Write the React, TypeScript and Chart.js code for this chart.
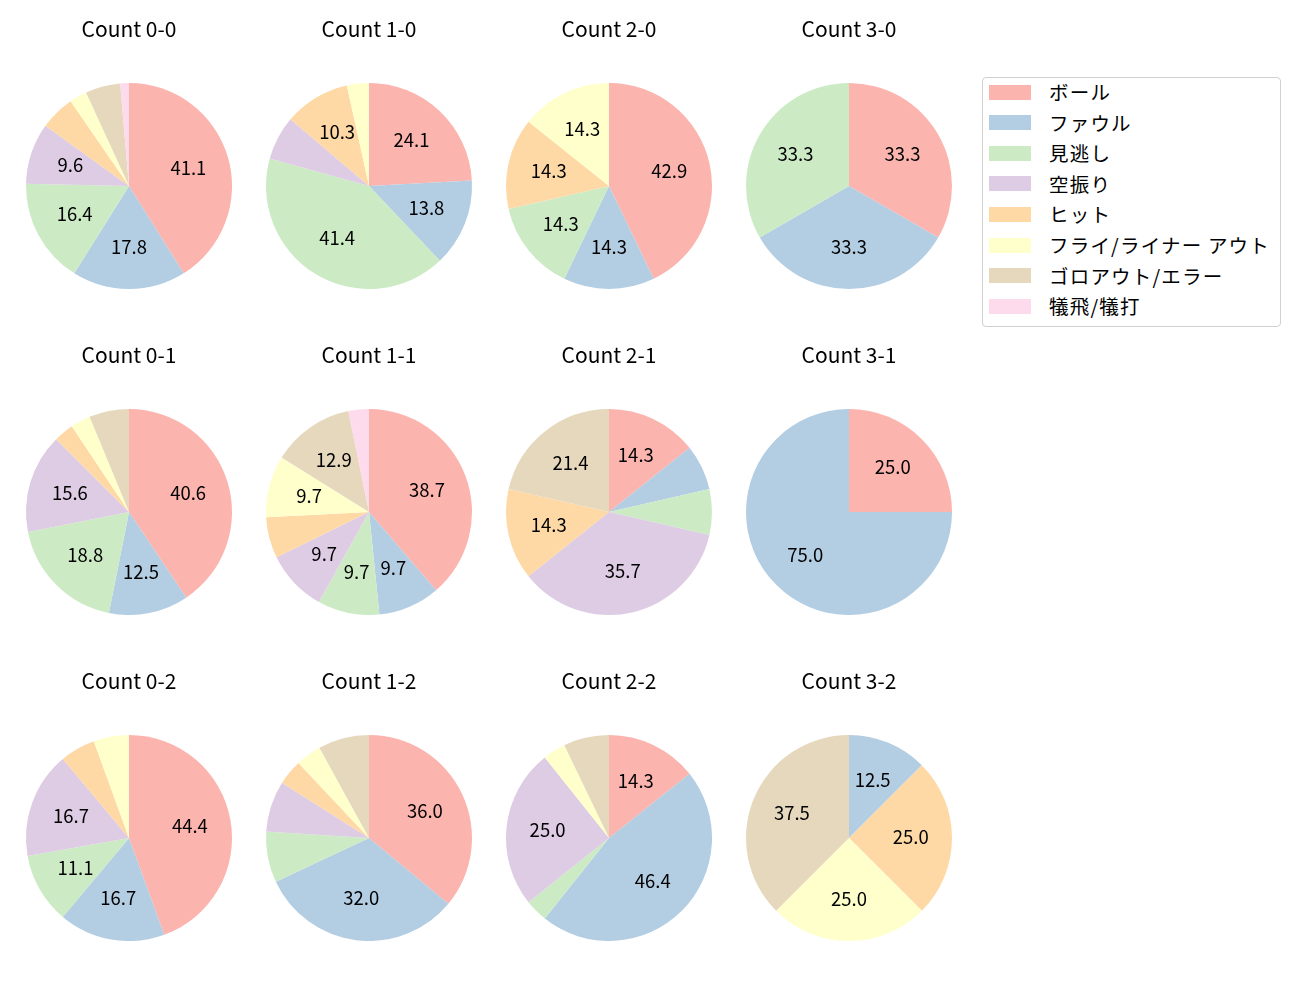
import React, { useEffect, useRef } from "react";
import { Chart, registerables } from "chart.js";

Chart.register(...registerables);

const FONT = "'Noto Sans CJK JP', 'Noto Sans', sans-serif";

const categories = [
  "ボール",
  "ファウル",
  "見逃し",
  "空振り",
  "ヒット",
  "フライ/ライナー アウト",
  "ゴロアウト/エラー",
  "犠飛/犠打",
];
const colors = ["#fbb4ae", "#b3cde3", "#ccebc5", "#decbe4", "#fed9a6", "#ffffcc", "#e5d8bd", "#fddaec"];

const countTitles = [
  "Count 0-0", "Count 1-0", "Count 2-0", "Count 3-0",
  "Count 0-1", "Count 1-1", "Count 2-1", "Count 3-1",
  "Count 0-2", "Count 1-2", "Count 2-2", "Count 3-2",
];

// pitch-result counts per ball-strike count, in category order
const count00 = [30, 13, 12, 7, 4, 2, 4, 1];
const count10 = [7, 4, 12, 2, 3, 1, 0, 0];
const count20 = [3, 1, 1, 0, 1, 1, 0, 0];
const count30 = [1, 1, 1, 0, 0, 0, 0, 0];
const count01 = [13, 4, 6, 5, 1, 1, 2, 0];
const count11 = [12, 3, 3, 3, 2, 3, 4, 1];
const count21 = [2, 1, 1, 5, 2, 0, 3, 0];
const count31 = [1, 3, 0, 0, 0, 0, 0, 0];
const count02 = [8, 3, 2, 3, 1, 1, 0, 0];
const count12 = [9, 8, 2, 2, 1, 1, 2, 0];
const count22 = [4, 13, 1, 7, 0, 1, 2, 0];
const count32 = [0, 1, 0, 0, 2, 2, 3, 0];

const allCounts = [
  count00, count10, count20, count30,
  count01, count11, count21, count31,
  count02, count12, count22, count32,
];

const LABEL_MIN_PCT = 9;

const pctPlugin = {
  id: "pctLabels",
  afterDatasetsDraw(chart: any) {
    const ctx = chart.ctx;
    const meta = chart.getDatasetMeta(0);
    const data = chart.data.datasets[0].data as number[];
    const total = data.reduce((a, b) => a + b, 0);
    ctx.save();
    ctx.font = `18.5px ${FONT}`;
    ctx.fillStyle = "#000";
    ctx.textAlign = "center";
    ctx.textBaseline = "middle";
    meta.data.forEach((arc: any, i: number) => {
      const pct = (data[i] / total) * 100;
      if (pct < LABEL_MIN_PCT) return;
      const p = arc.getProps(["x", "y", "startAngle", "endAngle", "outerRadius"], true);
      const mid = (p.startAngle + p.endAngle) / 2;
      const r = p.outerRadius * 0.6;
      ctx.fillText(pct.toFixed(1), p.x + Math.cos(mid) * r, p.y + Math.sin(mid) * r - 1);
    });
    ctx.restore();
  },
};

const W = 230;
const H = 273;

function Pie({ title, values, cx, cy }: { title: string; values: number[]; cx: number; cy: number }) {
  const ref = useRef<HTMLCanvasElement | null>(null);
  useEffect(() => {
    if (!ref.current) return;
    const chart = new Chart(ref.current, {
      type: "pie",
      data: {
        labels: categories,
        datasets: [
          {
            data: values,
            backgroundColor: colors,
            borderWidth: 0,
          },
        ],
      },
      options: {
        responsive: false,
        animation: false,
        devicePixelRatio: 1,
        layout: { padding: 0 },
        plugins: {
          legend: { display: false },
          tooltip: { enabled: false },
          title: {
            display: true,
            text: title,
            color: "#000",
            font: { family: FONT, size: 21, weight: "normal", lineHeight: 1.2 },
            padding: { top: 0, bottom: 41.8 },
          },
        },
      },
      plugins: [pctPlugin],
    } as any);
    return () => chart.destroy();
  }, [title, values]);
  return (
    <canvas
      ref={ref}
      width={W}
      height={H}
      style={{ position: "absolute", left: cx - W / 2, top: cy - 170, width: W, height: H }}
    />
  );
}

const colCenters = [129, 369, 609, 849];
const rowCenters = [186, 512, 838];

export default function App() {
  return (
    <div
      style={{
        position: "absolute",
        left: 0,
        top: 0,
        width: 1300,
        height: 1000,
        background: "#fff",
        overflow: "hidden",
        fontFamily: FONT,
      }}
    >
      {allCounts.map((vals, i) => (
        <Pie
          key={i}
          title={countTitles[i]}
          values={vals}
          cx={colCenters[i % 4]}
          cy={rowCenters[Math.floor(i / 4)]}
        />
      ))}
      <div
        style={{
          position: "absolute",
          left: 982,
          top: 77,
          width: 297,
          height: 248,
          border: "1px solid #d0d0d0",
          borderRadius: 4,
          background: "rgba(255,255,255,0.8)",
        }}
      />
      {categories.map((c, i) => {
        const y = 92 + i * 30.6;
        return (
          <React.Fragment key={c}>
            <div
              style={{
                position: "absolute",
                left: 989,
                top: y - 7.5,
                width: 42,
                height: 15,
                background: colors[i],
              }}
            />
            <div
              style={{
                position: "absolute",
                left: 1049,
                top: y - 13,
                height: 26,
                lineHeight: "26px",
                fontSize: 19.5,
                letterSpacing: 1.2,
                color: "#000",
                whiteSpace: "nowrap",
              }}
            >
              {c}
            </div>
          </React.Fragment>
        );
      })}
    </div>
  );
}
